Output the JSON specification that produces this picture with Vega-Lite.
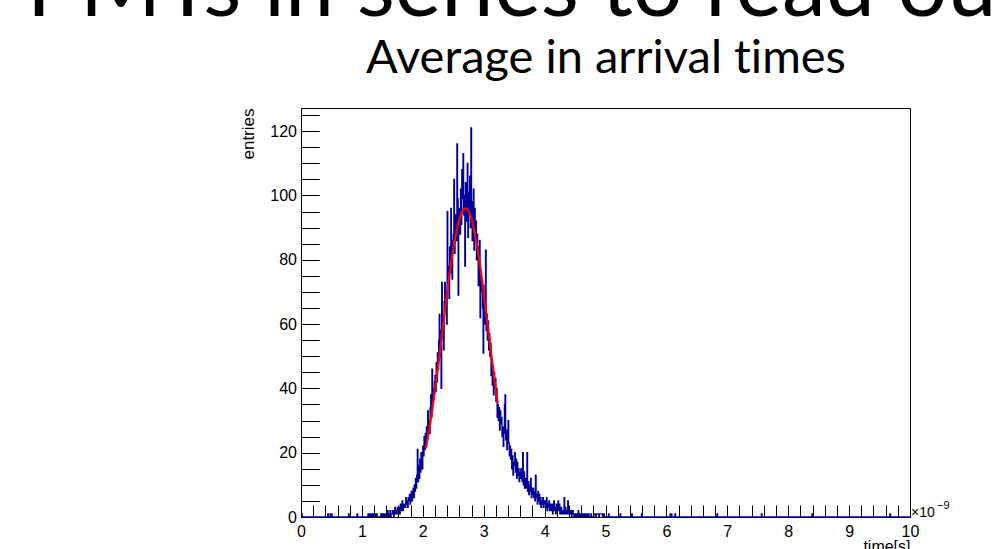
{
  "$schema": "https://vega.github.io/schema/vega-lite/v6.json",
  "width": 609,
  "height": 409,
  "autosize": {"type": "none"},
  "padding": {"left": 301, "top": 108, "right": 90, "bottom": 32},
  "background": "white",
  "config": {
    "view": {"stroke": "#000000", "strokeWidth": 1},
    "font": "Liberation Sans"
  },
  "title": {
    "text": "PMTs in series to read out",
    "font": "Lato",
    "fontSize": 88,
    "fontWeight": "normal",
    "color": "#000000",
    "anchor": "end",
    "frame": "group",
    "baseline": "alphabetic",
    "dx": 118,
    "dy": 70,
    "offset": 0
  },
  "resolve": {"axis": {"x": "independent", "y": "independent"}},
  "datasets": {
    "hist": [
      {"t":0,"n":0},{"t":0.01,"n":1},{"t":0.02,"n":0},
      {"t":0.44,"n":1},{"t":0.45,"n":0},{"t":0.48,"n":1},{"t":0.49,"n":0},{"t":0.5,"n":1},{"t":0.51,"n":0},
      {"t":0.78,"n":1},{"t":0.79,"n":0},{"t":0.92,"n":1},{"t":0.93,"n":0},
      {"t":1.1,"n":1},{"t":1.11,"n":1},{"t":1.12,"n":0},{"t":1.13,"n":1},{"t":1.14,"n":1},{"t":1.15,"n":0},
      {"t":1.17,"n":1},{"t":1.18,"n":0},{"t":1.19,"n":1},{"t":1.2,"n":0},{"t":1.21,"n":1},{"t":1.22,"n":1},{"t":1.23,"n":0},
      {"t":1.24,"n":1},{"t":1.25,"n":0},
      {"t":1.3,"n":0},{"t":1.31,"n":1},{"t":1.32,"n":0},{"t":1.33,"n":0},{"t":1.34,"n":1},{"t":1.35,"n":0},{"t":1.36,"n":0},{"t":1.37,"n":1},{"t":1.38,"n":0},{"t":1.39,"n":1},
      {"t":1.4,"n":1},{"t":1.41,"n":0},{"t":1.42,"n":2},{"t":1.43,"n":1},{"t":1.44,"n":0},{"t":1.45,"n":1},{"t":1.46,"n":2},{"t":1.47,"n":0},{"t":1.48,"n":1},{"t":1.49,"n":1},
      {"t":1.5,"n":2},{"t":1.51,"n":1},{"t":1.52,"n":0},{"t":1.53,"n":2},{"t":1.54,"n":3},{"t":1.55,"n":1},{"t":1.56,"n":2},{"t":1.57,"n":1},{"t":1.58,"n":3},{"t":1.59,"n":2},
      {"t":1.6,"n":2},{"t":1.61,"n":3},{"t":1.62,"n":1},{"t":1.63,"n":4},{"t":1.64,"n":2},{"t":1.65,"n":3},{"t":1.66,"n":5},{"t":1.67,"n":2},{"t":1.68,"n":3},{"t":1.69,"n":4},
      {"t":1.7,"n":4},{"t":1.71,"n":3},{"t":1.72,"n":6},{"t":1.73,"n":4},{"t":1.74,"n":5},{"t":1.75,"n":3},{"t":1.76,"n":6},{"t":1.77,"n":5},{"t":1.78,"n":7},{"t":1.79,"n":4},
      {"t":1.8,"n":6},{"t":1.81,"n":8},{"t":1.82,"n":5},{"t":1.83,"n":7},{"t":1.84,"n":9},{"t":1.85,"n":6},{"t":1.86,"n":10},{"t":1.87,"n":8},{"t":1.88,"n":12},{"t":1.89,"n":9},
      {"t":1.9,"n":13},{"t":1.91,"n":21},{"t":1.92,"n":11},{"t":1.93,"n":16},{"t":1.94,"n":12},{"t":1.95,"n":18},{"t":1.96,"n":14},{"t":1.97,"n":20},{"t":1.98,"n":17},{"t":1.99,"n":15},
      {"t":2.0,"n":22},{"t":2.01,"n":19},{"t":2.02,"n":25},{"t":2.03,"n":21},{"t":2.04,"n":26},{"t":2.05,"n":23},{"t":2.06,"n":28},{"t":2.07,"n":24},{"t":2.08,"n":33},{"t":2.09,"n":27},
      {"t":2.1,"n":30},{"t":2.11,"n":26},{"t":2.12,"n":34},{"t":2.13,"n":38},{"t":2.14,"n":31},{"t":2.15,"n":46},{"t":2.16,"n":35},{"t":2.17,"n":40},{"t":2.18,"n":37},{"t":2.19,"n":42},
      {"t":2.2,"n":44},{"t":2.21,"n":39},{"t":2.22,"n":48},{"t":2.23,"n":42},{"t":2.24,"n":51},{"t":2.25,"n":46},{"t":2.26,"n":55},{"t":2.27,"n":63},{"t":2.28,"n":50},{"t":2.29,"n":58},
      {"t":2.3,"n":40},{"t":2.31,"n":73},{"t":2.32,"n":56},{"t":2.33,"n":61},{"t":2.34,"n":52},{"t":2.35,"n":67},{"t":2.36,"n":73},{"t":2.37,"n":64},{"t":2.38,"n":70},{"t":2.39,"n":60},
      {"t":2.4,"n":95},{"t":2.41,"n":72},{"t":2.42,"n":78},{"t":2.43,"n":68},{"t":2.44,"n":84},{"t":2.45,"n":76},{"t":2.46,"n":96},{"t":2.47,"n":80},{"t":2.48,"n":74},{"t":2.49,"n":86},
      {"t":2.5,"n":88},{"t":2.51,"n":105},{"t":2.52,"n":82},{"t":2.53,"n":94},{"t":2.54,"n":90},{"t":2.55,"n":86},{"t":2.56,"n":116},{"t":2.57,"n":99},{"t":2.58,"n":69},{"t":2.59,"n":92},
      {"t":2.6,"n":96},{"t":2.61,"n":88},{"t":2.62,"n":102},{"t":2.63,"n":91},{"t":2.64,"n":108},{"t":2.65,"n":99},{"t":2.66,"n":113},{"t":2.67,"n":94},{"t":2.68,"n":100},{"t":2.69,"n":78},
      {"t":2.7,"n":104},{"t":2.71,"n":92},{"t":2.72,"n":98},{"t":2.73,"n":110},{"t":2.74,"n":87},{"t":2.75,"n":101},{"t":2.76,"n":95},{"t":2.77,"n":106},{"t":2.78,"n":90},{"t":2.79,"n":121},
      {"t":2.8,"n":98},{"t":2.81,"n":86},{"t":2.82,"n":94},{"t":2.83,"n":102},{"t":2.84,"n":83},{"t":2.85,"n":96},{"t":2.86,"n":89},{"t":2.87,"n":92},{"t":2.88,"n":80},{"t":2.89,"n":88},
      {"t":2.9,"n":84},{"t":2.91,"n":72},{"t":2.92,"n":79},{"t":2.93,"n":86},{"t":2.94,"n":62},{"t":2.95,"n":76},{"t":2.96,"n":70},{"t":2.97,"n":74},{"t":2.98,"n":65},{"t":2.99,"n":51},
      {"t":3.0,"n":68},{"t":3.01,"n":60},{"t":3.02,"n":72},{"t":3.03,"n":83},{"t":3.04,"n":58},{"t":3.05,"n":63},{"t":3.06,"n":55},{"t":3.07,"n":61},{"t":3.08,"n":52},{"t":3.09,"n":57},
      {"t":3.1,"n":50},{"t":3.11,"n":54},{"t":3.12,"n":44},{"t":3.13,"n":49},{"t":3.14,"n":41},{"t":3.15,"n":47},{"t":3.16,"n":38},{"t":3.17,"n":45},{"t":3.18,"n":40},{"t":3.19,"n":43},
      {"t":3.2,"n":36},{"t":3.21,"n":40},{"t":3.22,"n":31},{"t":3.23,"n":35},{"t":3.24,"n":30},{"t":3.25,"n":34},{"t":3.26,"n":27},{"t":3.27,"n":33},{"t":3.28,"n":29},{"t":3.29,"n":31},
      {"t":3.3,"n":25},{"t":3.31,"n":28},{"t":3.32,"n":22},{"t":3.33,"n":26},{"t":3.34,"n":35},{"t":3.35,"n":38},{"t":3.36,"n":24},{"t":3.37,"n":27},{"t":3.38,"n":21},{"t":3.39,"n":25},
      {"t":3.4,"n":30},{"t":3.41,"n":23},{"t":3.42,"n":19},{"t":3.43,"n":22},{"t":3.44,"n":18},{"t":3.45,"n":21},{"t":3.46,"n":15},{"t":3.47,"n":19},{"t":3.48,"n":13},{"t":3.49,"n":17},
      {"t":3.5,"n":16},{"t":3.51,"n":20},{"t":3.52,"n":14},{"t":3.53,"n":18},{"t":3.54,"n":12},{"t":3.55,"n":17},{"t":3.56,"n":13},{"t":3.57,"n":15},{"t":3.58,"n":11},{"t":3.59,"n":14},
      {"t":3.6,"n":12},{"t":3.61,"n":15},{"t":3.62,"n":13},{"t":3.63,"n":11},{"t":3.64,"n":20},{"t":3.65,"n":10},{"t":3.66,"n":14},{"t":3.67,"n":9},{"t":3.68,"n":12},{"t":3.69,"n":11},
      {"t":3.7,"n":9},{"t":3.71,"n":20},{"t":3.72,"n":8},{"t":3.73,"n":11},{"t":3.74,"n":7},{"t":3.75,"n":10},{"t":3.76,"n":8},{"t":3.77,"n":12},{"t":3.78,"n":6},{"t":3.79,"n":9},
      {"t":3.8,"n":7},{"t":3.81,"n":9},{"t":3.82,"n":6},{"t":3.83,"n":8},{"t":3.84,"n":5},{"t":3.85,"n":13},{"t":3.86,"n":7},{"t":3.87,"n":6},{"t":3.88,"n":4},{"t":3.89,"n":8},
      {"t":3.9,"n":5},{"t":3.91,"n":7},{"t":3.92,"n":4},{"t":3.93,"n":6},{"t":3.94,"n":3},{"t":3.95,"n":5},{"t":3.96,"n":4},{"t":3.97,"n":6},{"t":3.98,"n":3},{"t":3.99,"n":5},
      {"t":4.0,"n":4},{"t":4.01,"n":5},{"t":4.02,"n":3},{"t":4.03,"n":6},{"t":4.04,"n":2},{"t":4.05,"n":4},{"t":4.06,"n":3},{"t":4.07,"n":5},{"t":4.08,"n":2},{"t":4.09,"n":4},
      {"t":4.1,"n":3},{"t":4.11,"n":2},{"t":4.12,"n":4},{"t":4.13,"n":1},{"t":4.14,"n":3},{"t":4.15,"n":5},{"t":4.16,"n":2},{"t":4.17,"n":3},{"t":4.18,"n":1},{"t":4.19,"n":4},
      {"t":4.2,"n":2},{"t":4.21,"n":3},{"t":4.22,"n":5},{"t":4.23,"n":2},{"t":4.24,"n":4},{"t":4.25,"n":1},{"t":4.26,"n":2},{"t":4.27,"n":3},{"t":4.28,"n":1},{"t":4.29,"n":2},
      {"t":4.3,"n":1},{"t":4.31,"n":2},{"t":4.32,"n":6},{"t":4.33,"n":1},{"t":4.34,"n":3},{"t":4.35,"n":2},{"t":4.36,"n":1},{"t":4.37,"n":2},{"t":4.38,"n":5},{"t":4.39,"n":1},
      {"t":4.4,"n":2},{"t":4.41,"n":1},{"t":4.42,"n":1},{"t":4.43,"n":2},{"t":4.44,"n":0},{"t":4.45,"n":1},{"t":4.46,"n":2},{"t":4.47,"n":1},{"t":4.48,"n":0},{"t":4.49,"n":1},
      {"t":4.5,"n":1},{"t":4.51,"n":0},{"t":4.52,"n":1},{"t":4.53,"n":1},{"t":4.54,"n":0},{"t":4.55,"n":2},{"t":4.56,"n":0},{"t":4.57,"n":1},{"t":4.58,"n":0},{"t":4.59,"n":1},
      {"t":4.6,"n":0},{"t":4.61,"n":1},{"t":4.62,"n":0},{"t":4.63,"n":0},{"t":4.64,"n":1},{"t":4.65,"n":0},{"t":4.66,"n":1},{"t":4.67,"n":0},{"t":4.68,"n":0},{"t":4.69,"n":1},
      {"t":4.7,"n":0},{"t":4.72,"n":1},{"t":4.73,"n":0},{"t":4.76,"n":1},{"t":4.77,"n":0},
      {"t":4.81,"n":1},{"t":4.82,"n":1},{"t":4.83,"n":1},{"t":4.84,"n":0},{"t":4.85,"n":1},{"t":4.86,"n":1},{"t":4.87,"n":1},{"t":4.88,"n":1},{"t":4.89,"n":0},
      {"t":4.9,"n":1},{"t":4.91,"n":1},{"t":4.92,"n":1},{"t":4.93,"n":1},{"t":4.94,"n":1},{"t":4.95,"n":0},{"t":4.96,"n":1},{"t":4.97,"n":1},{"t":4.98,"n":0},
      {"t":5.05,"n":1},{"t":5.06,"n":0},{"t":5.24,"n":1},{"t":5.25,"n":0},{"t":5.43,"n":1},{"t":5.44,"n":0},{"t":5.59,"n":1},{"t":5.6,"n":0},
      {"t":6.06,"n":1},{"t":6.07,"n":0},{"t":6.08,"n":1},{"t":6.09,"n":0},{"t":6.14,"n":1},{"t":6.15,"n":0},{"t":6.83,"n":1},{"t":6.84,"n":0},
      {"t":7.56,"n":1},{"t":7.57,"n":0},{"t":8.39,"n":1},{"t":8.4,"n":0},{"t":9.67,"n":1},{"t":9.68,"n":0},{"t":10,"n":0}
    ],
    "fit": [
      {"t":2.05,"n":21.4},{"t":2.1,"n":26.7},{"t":2.15,"n":32.7},{"t":2.2,"n":39.5},{"t":2.25,"n":46.7},
      {"t":2.3,"n":54.4},{"t":2.35,"n":62.1},{"t":2.4,"n":69.7},{"t":2.45,"n":76.9},{"t":2.5,"n":83.3},
      {"t":2.55,"n":88.6},{"t":2.6,"n":92.7},{"t":2.65,"n":95.2},{"t":2.7,"n":96.0},{"t":2.75,"n":95.2},
      {"t":2.8,"n":92.7},{"t":2.85,"n":88.6},{"t":2.9,"n":83.3},{"t":2.95,"n":76.9},{"t":3.0,"n":69.7},
      {"t":3.05,"n":62.1},{"t":3.1,"n":54.4},{"t":3.15,"n":46.7},{"t":3.2,"n":39.5},{"t":3.23,"n":35.4}
    ],
    "note": [{"t":10,"n":0,"label":"×10"}],
    "expo": [{"t":10,"n":0,"label":"−9"}]
  },
  "layer": [
    {
      "data": {"name": "hist"},
      "mark": {"type": "line", "interpolate": "step-after", "color": "#000099", "strokeWidth": 1.3},
      "encoding": {
        "x": {
          "field": "t", "type": "quantitative",
          "scale": {"domain": [0, 10], "nice": false, "zero": false},
          "axis": {
            "orient": "bottom",
            "values": [0,0.2,0.4,0.6,0.8,1,1.2,1.4,1.6,1.8,2,2.2,2.4,2.6,2.8,3,3.2,3.4,3.6,3.8,4,4.2,4.4,4.6,4.8,5,5.2,5.4,5.6,5.8,6,6.2,6.4,6.6,6.8,7,7.2,7.4,7.6,7.8,8,8.2,8.4,8.6,8.8,9,9.2,9.4,9.6,9.8,10],
            "labelExpr": "datum.value == round(datum.value) ? '' + round(datum.value) : ''",
            "grid": false,
            "zindex": 1,
            "domainColor": "#000000",
            "domainWidth": 1,
            "tickColor": "#000000",
            "tickWidth": 1,
            "tickSize": -12,
            "encode": {"ticks": {"y2": {"value": {"expr": "datum.value == round(datum.value) ? -12 : -6"}}}},
            "labelPadding": 18.5,
            "labelBaseline": "top",
            "labelFont": "Liberation Sans",
            "labelFontSize": 16,
            "labelColor": "#000000",
            "labelOverlap": false,
            "labelFlush": false,
            "title": "time[s]",
            "titleAnchor": "end",
            "titleFont": "Liberation Sans",
            "titleFontSize": 16,
            "titleFontWeight": "normal",
            "titleColor": "#000000",
            "titlePadding": -1
          }
        },
        "y": {
          "field": "n", "type": "quantitative",
          "scale": {"domain": [0, 127.2], "nice": false, "zero": true},
          "axis": {
            "orient": "left",
            "values": [0,5,10,15,20,25,30,35,40,45,50,55,60,65,70,75,80,85,90,95,100,105,110,115,120,125],
            "labelExpr": "datum.value % 20 == 0 ? '' + datum.value : ''",
            "grid": false,
            "zindex": 1,
            "domainColor": "#000000",
            "domainWidth": 1,
            "tickColor": "#000000",
            "tickWidth": 1,
            "tickSize": -18.3,
            "encode": {"ticks": {"x2": {"value": {"expr": "datum.value % 20 == 0 ? 18.3 : 9.2"}}}},
            "labelPadding": 22.8,
            "labelFont": "Liberation Sans",
            "labelFontSize": 16,
            "labelColor": "#000000",
            "labelOverlap": false,
            "labelFlush": false,
            "title": "entries",
            "titleAnchor": "end",
            "titleFont": "Liberation Sans",
            "titleFontSize": 17,
            "titleFontWeight": "normal",
            "titleColor": "#000000",
            "titlePadding": 12
          }
        }
      }
    },
    {
      "data": {"name": "fit"},
      "mark": {"type": "line", "interpolate": "monotone", "color": "#ff0000", "strokeWidth": 2.2},
      "encoding": {
        "x": {"field": "t", "type": "quantitative", "axis": null},
        "y": {"field": "n", "type": "quantitative", "axis": null}
      }
    },
    {
      "data": {"name": "note"},
      "mark": {"type": "text", "align": "left", "baseline": "alphabetic", "dx": 1, "dy": 0, "fontSize": 14, "font": "Liberation Sans", "color": "#000000"},
      "encoding": {
        "x": {
          "field": "t", "type": "quantitative",
          "axis": {
            "orient": "top",
            "domain": false, "ticks": false, "labels": false, "grid": false,
            "title": "Average in arrival t‌imes",
            "titleFont": "Lato",
            "titleFontSize": 47,
            "titleFontWeight": "normal",
            "titleColor": "#000000",
            "titlePadding": 26
          }
        },
        "y": {"field": "n", "type": "quantitative", "axis": null},
        "text": {"field": "label"}
      }
    },
    {
      "data": {"name": "expo"},
      "mark": {"type": "text", "align": "left", "baseline": "alphabetic", "dx": 27, "dy": -8, "fontSize": 11, "font": "Liberation Sans", "color": "#000000"},
      "encoding": {
        "x": {"field": "t", "type": "quantitative", "axis": null},
        "y": {"field": "n", "type": "quantitative", "axis": null},
        "text": {"field": "label"}
      }
    }
  ]
}
